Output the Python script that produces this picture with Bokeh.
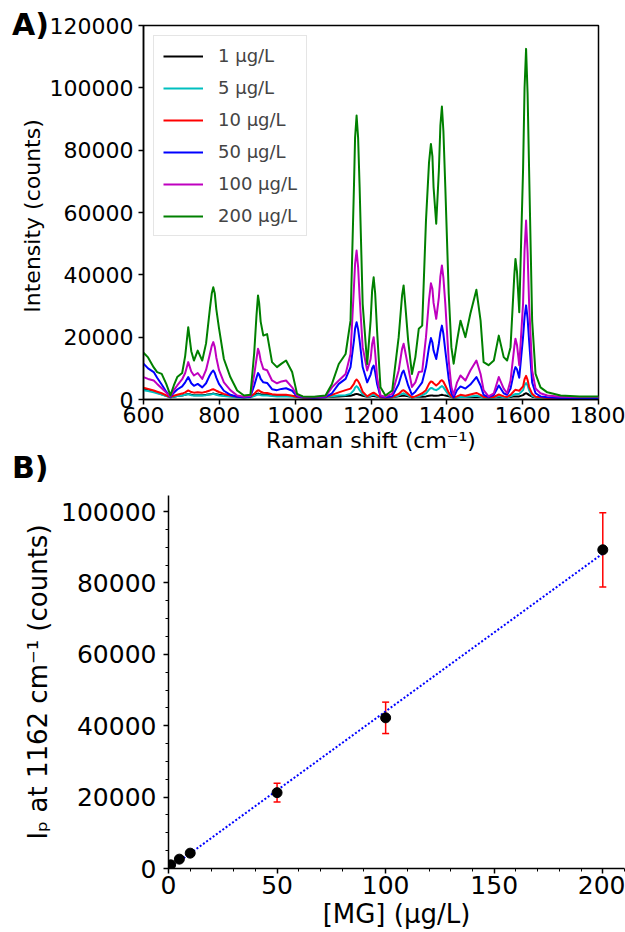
import numpy as np
from bokeh.plotting import figure
from bokeh.models import (Legend, LegendItem, Div, FixedTicker, BasicTickFormatter,
                          Whisker, TeeHead, ColumnDataSource, Range1d)
from bokeh.embed import file_html
from bokeh.resources import INLINE

# ---------------- data: panel A (Raman spectra) ----------------
raman_shift = [600, 612, 627, 636, 648, 660, 671, 680, 689, 702,
               710, 718, 726, 733, 743, 755, 765, 775, 780, 784,
               788, 792, 799, 812, 829, 847, 865, 882, 892, 898,
               902, 905, 909, 916, 926, 939, 952, 964, 976, 992,
               1005, 1020, 1050, 1080, 1097, 1115, 1133, 1146, 1155, 1158,
               1162, 1166, 1170, 1178, 1190, 1199, 1203, 1207, 1211, 1216,
               1225, 1238, 1256, 1273, 1282, 1286, 1290, 1298, 1308, 1317,
               1326, 1335, 1345, 1353, 1358, 1362, 1365, 1372, 1379, 1383,
               1387, 1391, 1396, 1405, 1412, 1418, 1427, 1436, 1449, 1462,
               1478, 1489, 1497, 1510, 1524, 1537, 1550, 1559, 1568, 1578,
               1581, 1585, 1591, 1601, 1605, 1609, 1613, 1617, 1625, 1634,
               1647, 1665, 1700, 1750, 1800]

int_1 = [3400, 3000, 2600, 2200, 1700, 1200, 700, 900, 1100, 1300,
         1500, 1800, 1500, 1400, 1400, 1400, 1500, 1700, 1800, 1900,
         1800, 1700, 1500, 1300, 1100, 900, 800, 900, 1300, 1700,
         1900, 1800, 1700, 1600, 1500, 1300, 1200, 1200, 1200, 1100,
         900, 800, 700, 800, 900, 1000, 1100, 1200, 1500, 1700,
         1800, 1700, 1500, 1200, 900, 1000, 1100, 1100, 1000, 900,
         700, 600, 700, 1000, 1200, 1300, 1200, 1000, 700, 800,
         900, 900, 1000, 1200, 1300, 1300, 1200, 1200, 1300, 1400,
         1500, 1400, 1300, 1000, 800, 600, 700, 800, 800, 800,
         900, 800, 700, 700, 700, 800, 700, 700, 800, 1000,
         1000, 1000, 1000, 1400, 1800, 2000, 1800, 1400, 900, 700,
         600, 500, 400, 400, 400]

int_5 = [3000, 2700, 2300, 2000, 1600, 1100, 700, 900, 1100, 1300,
         1500, 1700, 1400, 1300, 1300, 1300, 1400, 1600, 1700, 1800,
         1700, 1500, 1300, 1100, 900, 700, 600, 700, 1100, 1400,
         1600, 1500, 1400, 1300, 1300, 1100, 1000, 1000, 1000, 900,
         700, 500, 500, 600, 1000, 1300, 1400, 1800, 3000, 3800,
         4300, 3800, 3000, 1700, 900, 1200, 1400, 1500, 1300, 1000,
         600, 500, 700, 1300, 1800, 2000, 1700, 1300, 600, 800,
         1000, 1400, 2000, 3200, 3700, 3600, 3300, 3000, 3500, 4000,
         4300, 3900, 3000, 1500, 800, 500, 700, 900, 800, 1000,
         1200, 900, 600, 500, 600, 1000, 700, 600, 1000, 1600,
         1800, 1800, 1800, 3000, 4600, 5300, 4500, 3000, 1200, 700,
         500, 400, 300, 300, 300]

int_10 = [3800, 3400, 2900, 2500, 2000, 1300, 800, 1200, 1500, 1900,
          2300, 2900, 2400, 2200, 2300, 2200, 2500, 2900, 3200, 3300,
          3100, 2800, 2400, 1800, 1300, 900, 700, 900, 1800, 2600,
          3000, 2900, 2500, 2200, 2100, 1700, 1500, 1500, 1500, 1200,
          800, 600, 600, 700, 1500, 2300, 3000, 3500, 5000, 5900,
          6400, 5900, 5000, 2500, 1000, 1700, 2000, 2200, 1900, 1400,
          700, 600, 800, 1800, 2800, 3000, 2600, 1800, 700, 1000,
          1500, 2000, 3000, 5000, 5800, 5600, 5200, 4500, 5200, 5900,
          6200, 5700, 4500, 2200, 1000, 600, 1000, 1500, 1200, 1600,
          2100, 1500, 800, 600, 800, 1600, 1000, 800, 1500, 2800,
          3100, 3000, 2800, 4200, 6500, 7600, 6300, 4000, 1800, 900,
          700, 500, 400, 400, 400]

int_50 = [11500, 10000, 8800, 7000, 4800, 2500, 800, 2200, 3200, 4200,
          5500, 7200, 5200, 4400, 5000, 3900, 5200, 7800, 8800, 9300,
          8500, 7000, 5000, 2800, 1500, 900, 700, 900, 4500, 7000,
          8500, 8000, 6600, 5500, 5300, 3300, 3000, 3400, 3600, 2800,
          1000, 700, 600, 800, 2000, 5000, 6600, 10400, 18900, 22700,
          24800, 22500, 18900, 10400, 5500, 8000, 10000, 10900, 8800, 5000,
          1000, 700, 1000, 5000, 8600, 9300, 7800, 4500, 1500, 2500,
          4000, 5500, 10400, 16800, 19700, 18300, 15700, 13000, 17900, 21500,
          23700, 21000, 15700, 6600, 2000, 700, 3000, 4200, 3500, 4800,
          7200, 4500, 1500, 800, 1500, 4500, 2000, 1500, 3500, 9300,
          10400, 9700, 7000, 20000, 26500, 30200, 26000, 18900, 5500, 2000,
          1000, 700, 500, 500, 500]

int_100 = [7200, 6600, 6100, 5000, 3600, 2200, 1000, 3000, 4500, 6500,
           8500, 12000, 9000, 7700, 8500, 6600, 9500, 14500, 17200, 18400,
           16800, 13500, 9500, 5500, 3000, 1300, 900, 1100, 8000, 13000,
           16300, 15200, 12500, 9800, 9400, 6100, 5200, 5800, 6100, 3900,
           1300, 900, 800, 1000, 3900, 6100, 8200, 14600, 36000, 43500,
           47800, 42500, 32800, 16800, 9300, 13000, 17800, 20000, 15000, 7200,
           1300, 900, 1800, 9300, 16300, 17900, 15500, 10400, 4000, 5500,
           8800, 9000, 20000, 32000, 37300, 35500, 31000, 25900, 32800, 39500,
           43000, 39000, 30700, 12500, 4000, 1500, 5500, 7700, 6100, 9300,
           12500, 8200, 3000, 1000, 2000, 7200, 3500, 2000, 6100, 17000,
           19500, 17500, 11000, 30700, 48000, 57400, 47000, 30700, 9300, 3500,
           2000, 1300, 900, 800, 800]

int_200 = [15000, 13500, 10300, 8800, 8200, 5000, 1300, 4500, 7200, 8500,
           14000, 23200, 15500, 12500, 15700, 12500, 18000, 29000, 34000, 36000,
           34000, 29000, 23000, 13000, 7200, 2900, 1300, 1500, 15000, 27000,
           33400, 31000, 25000, 20500, 21000, 12000, 10400, 11500, 12500, 8800,
           1800, 1000, 900, 1300, 5000, 11400, 14600, 25300, 68100, 84000,
           91100, 84000, 68100, 30700, 11400, 25300, 35000, 39200, 34000, 22100,
           3900, 1300, 2900, 20000, 33500, 36600, 31000, 18900, 8200, 13600,
           22700, 23700, 57400, 76000, 82000, 78000, 68100, 56400, 73500, 88000,
           94000, 86000, 68100, 33900, 16800, 11500, 18900, 25300, 20000, 27500,
           35200, 25300, 12000, 11000, 12500, 20500, 13600, 12500, 16800, 40000,
           45100, 41000, 28000, 73500, 100000, 112500, 98000, 73500, 25300, 8200,
           3900, 2300, 1300, 1000, 1000]

series_labels = ["1 μg/L", "5 μg/L", "10 μg/L", "50 μg/L", "100 μg/L", "200 μg/L"]
series_values = [int_1, int_5, int_10, int_50, int_100, int_200]
series_colors = ["black", "#00bfbf", "red", "blue", "#bf00bf", "green"]

a_xticks = [600, 800, 1000, 1200, 1400, 1600, 1800]
a_yticks = [0, 20000, 40000, 60000, 80000, 100000, 120000]

# ---------------- data: panel B (calibration) ----------------
mg_conc = [1, 5, 10, 50, 100, 200]
ip_1162 = [1030, 2620, 4300, 21250, 42210, 89290]
ip_err = [200, 300, 400, 2600, 4400, 10400]

b_xticks = [0, 50, 100, 150, 200]
b_yticks = [0, 20000, 40000, 60000, 80000, 100000]

for s in series_values:
    assert len(s) == len(raman_shift)

FONT = "DejaVu Sans"

# ---------------- panel A ----------------
p1 = figure(width=625, height=460, output_backend="svg", toolbar_location=None,
            x_range=Range1d(600, 1800), y_range=Range1d(0, 120000),
            min_border_left=143, min_border_right=27, min_border_top=25,
            min_border_bottom=61)
p1.grid.visible = False
p1.outline_line_color = "black"
p1.outline_line_width = 1.5
p1.outline_line_alpha = 1.0

items = []
for lab, vals, col in zip(series_labels, series_values, series_colors):
    r = p1.line(raman_shift, vals, line_color=col, line_width=2, line_join="round")
    items.append(LegendItem(label=lab, renderers=[r]))

legend = Legend(items=items, location="top_left",
                label_text_font=FONT, label_text_font_size="18px",
                glyph_width=40, glyph_height=20, label_height=20,
                spacing=11, padding=9, margin=10, label_standoff=15,
                border_line_color="#cccccc", border_line_width=1,
                background_fill_alpha=0.8)
p1.add_layout(legend)

p1.xaxis.ticker = FixedTicker(ticks=a_xticks)
p1.yaxis.ticker = FixedTicker(ticks=a_yticks)
p1.yaxis.formatter = BasicTickFormatter(use_scientific=False)
p1.xaxis.axis_label = "Raman shift (cm⁻¹)"
p1.yaxis.axis_label = "Intensity  (counts)"
for ax in (p1.xaxis, p1.yaxis):
    ax.axis_line_width = 1.5
    ax.major_tick_line_width = 1.5
    ax.major_tick_in = 0
    ax.major_tick_out = 5
    ax.minor_tick_line_color = None
    ax.major_label_text_font = FONT
    ax.major_label_text_font_size = "22px"
    ax.major_label_text_color = "black"
    ax.axis_label_text_font = FONT
    ax.axis_label_text_font_size = "22px"
    ax.axis_label_text_font_style = "normal"
    ax.axis_label_text_color = "black"
    ax.major_label_standoff = 2
    ax.axis_label_standoff = 2
p1.yaxis.major_label_standoff = 5
p1.yaxis.axis_label_standoff = 2

# ---------------- panel B ----------------
p2 = figure(width=625, height=472, output_backend="svg", toolbar_location=None,
            x_range=Range1d(0, 210), y_range=Range1d(0, 104500),
            min_border_left=168, min_border_right=1, min_border_top=35,
            min_border_bottom=64)
p2.grid.visible = False
p2.outline_line_color = None

coef = np.polyfit(mg_conc, ip_1162, 1)
fit_x = [min(mg_conc), max(mg_conc)]
p2.line(fit_x, list(np.polyval(coef, fit_x)), line_color="blue", line_width=2,
        line_dash="2 2")

src = ColumnDataSource(data=dict(
    x=mg_conc,
    upper=[v + e for v, e in zip(ip_1162, ip_err)],
    lower=[v - e for v, e in zip(ip_1162, ip_err)]))
p2.add_layout(Whisker(base="x", upper="upper", lower="lower", source=src,
                      line_color="red", line_width=1.5,
                      upper_head=TeeHead(size=7, line_color="red", line_width=1.5),
                      lower_head=TeeHead(size=7, line_color="red", line_width=1.5)))
p2.scatter(mg_conc, ip_1162, size=10, color="black")

p2.xaxis.ticker = FixedTicker(ticks=b_xticks, minor_ticks=list(range(0, 220, 10)))
p2.yaxis.ticker = FixedTicker(ticks=b_yticks, minor_ticks=list(range(0, 105000, 5000)))
p2.yaxis.formatter = BasicTickFormatter(use_scientific=False)
p2.xaxis.axis_label = "[MG] (μg/L)"
p2.yaxis.axis_label = "Iₚ at 1162 cm⁻¹ (counts)"
for ax in (p2.xaxis, p2.yaxis):
    ax.axis_line_width = 1.5
    ax.major_tick_line_width = 1.5
    ax.minor_tick_line_width = 1
    ax.major_tick_in = 0
    ax.major_tick_out = 5
    ax.minor_tick_in = 0
    ax.minor_tick_out = 3
    ax.major_label_text_font = FONT
    ax.major_label_text_font_size = "25px"
    ax.major_label_text_color = "black"
    ax.axis_label_text_font = FONT
    ax.axis_label_text_font_size = "26px"
    ax.axis_label_text_font_style = "normal"
    ax.axis_label_text_color = "black"
    ax.major_label_standoff = 2
    ax.axis_label_standoff = 2
p2.yaxis.major_label_standoff = 7
p2.yaxis.axis_label_standoff = 5

# ---------------- panel letters (absolutely positioned over the page) ----------------
def panel_letter(txt, top):
    return Div(text=txt, styles={"position": "absolute", "left": "7px", "top": f"{top}px",
                                 "font-family": FONT, "font-size": "30px",
                                 "font-weight": "bold", "color": "black",
                                 "line-height": "1", "z-index": "10"})

div_a = panel_letter("A)", 5)
div_b = panel_letter("B)", 448)

open("out.html", "w").write(file_html([p1, p2, div_a, div_b], INLINE))
